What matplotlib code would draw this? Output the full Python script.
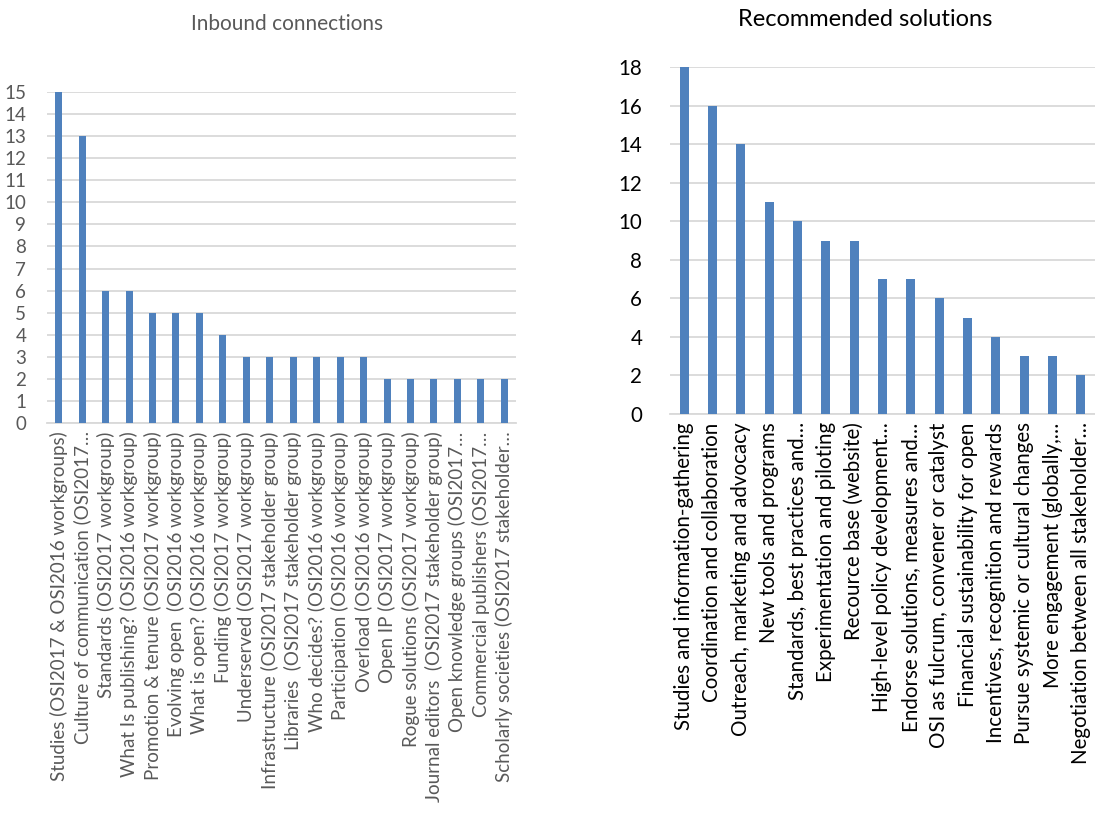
import matplotlib.pyplot as plt

plt.rcParams['font.family'] = ['Lato', 'DejaVu Sans']

# Data
inbound_labels = [
    "Studies (OSI2017 & OSI2016 workgroups)",
    "Culture of communication (OSI2017…",
    "Standards (OSI2017 workgroup)",
    "What Is publishing? (OSI2016 workgroup)",
    "Promotion & tenure (OSI2017 workgroup)",
    "Evolving open  (OSI2016 workgroup)",
    "What is open? (OSI2016 workgroup)",
    "Funding (OSI2017 workgroup)",
    "Underserved (OSI2017 workgroup)",
    "Infrastructure (OSI2017 stakeholder group)",
    "Libraries  (OSI2017 stakeholder group)",
    "Who decides? (OSI2016 workgroup)",
    "Participation (OSI2016 workgroup)",
    "Overload (OSI2016 workgroup)",
    "Open IP (OSI2017 workgroup)",
    "Rogue solutions (OSI2017 workgroup)",
    "Journal editors  (OSI2017 stakeholder group)",
    "Open knowledge groups (OSI2017…",
    "Commercial publishers (OSI2017…",
    "Scholarly societies (OSI2017 stakeholder…",
]
inbound_values = [15, 13, 6, 6, 5, 5, 5, 4, 3, 3, 3, 3, 3, 3, 2, 2, 2, 2, 2, 2]

solution_labels = [
    "Studies and information-gathering",
    "Coordination and collaboration",
    "Outreach, marketing and advocacy",
    "New tools and programs",
    "Standards, best practices and…",
    "Experimentation and piloting",
    "Recource base (website)",
    "High-level policy development…",
    "Endorse solutions, measures and…",
    "OSI as fulcrum, convener or catalyst",
    "Financial sustainability for open",
    "Incentives, recognition and rewards",
    "Pursue systemic or cultural changes",
    "More engagement (globally,…",
    "Negotiation between all stakeholder…",
]
solution_values = [18, 16, 14, 11, 10, 9, 9, 7, 7, 6, 5, 4, 3, 3, 2]

W, H = 1095, 823
fig = plt.figure(figsize=(W / 100, H / 100), dpi=100)

bar_color = '#4F81BD'
grid_color = '#D9D9D9'


def make_panel(rect, labels, values, ymax, ystep, text_color, width, fs, pad):
    ax = fig.add_axes(rect)
    x = range(len(values))
    ax.bar(x, values, width=width, color=bar_color, zorder=3)
    ax.set_xlim(-0.5, len(values) - 0.5)
    ax.set_ylim(0, ymax)
    ax.set_yticks(range(0, ymax + 1, ystep))
    ax.yaxis.grid(True, color=grid_color, linewidth=1.3, zorder=0)
    ax.set_xticks(list(x))
    ax.set_xticklabels(labels, rotation=90, ha='center', va='top',
                       fontsize=fs, color=text_color)
    ax.tick_params(axis='y', labelsize=fs, labelcolor=text_color, length=0, pad=pad)
    ax.tick_params(axis='x', length=0, pad=6)
    for s in ['top', 'right', 'left']:
        ax.spines[s].set_visible(False)
    ax.spines['bottom'].set_color(grid_color)
    ax.spines['bottom'].set_linewidth(1.3)
    return ax


def px_rect(x0, x1, ytop, ybot):
    return [x0 / W, 1 - ybot / H, (x1 - x0) / W, (ybot - ytop) / H]


make_panel(px_rect(47, 516, 92, 423), inbound_labels, inbound_values, 15, 1,
           '#595959', 0.3, 13.5, 15)
make_panel(px_rect(670, 1095, 67, 414), solution_labels, solution_values, 18, 2,
           'black', 0.31, 14.8, 20)

fig.text(287 / W, 1 - 24 / H, "Inbound connections", ha='center', va='center',
         fontsize=15, color='#595959')
fig.text(865 / W, 1 - 20 / H, "Recommended solutions", ha='center', va='center',
         fontsize=17, color='black')

fig.savefig('out.png', dpi=100)
